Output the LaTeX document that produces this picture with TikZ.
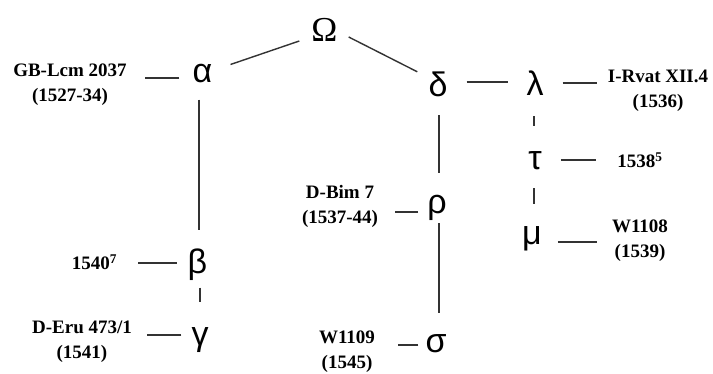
\documentclass[tikz,border=0pt]{standalone}
\usepackage{fontspec}
\setmainfont{Liberation Serif}
\newfontfamily\grk{Liberation Sans}
\usetikzlibrary{calc}
\tikzset{
  greek/.style={inner sep=0pt, font=\grk\fontsize{34}{34}\selectfont},
  omegastyle/.style={inner sep=0pt, font=\fontsize{35}{35}\selectfont},
  lbl/.style={inner sep=0pt, align=center, font=\bfseries\fontsize{19}{25}\selectfont},
  conn/.style={draw=black!80, line width=1.4pt}
}
\begin{document}
\begin{tikzpicture}[x=1pt,y=-1pt]
\useasboundingbox (0,0) rectangle (713,374);
\fill[white] (0,0) rectangle (713,374);
% Greek nodes
\node[omegastyle] (Omega) at (324.5,30) {Ω};
\node[greek] (alpha) at (202.5,74) {α};
\node[greek] (beta) at (197.5,264.5) {β};
\node[greek] (gamma) at (200,340) {γ};
\node[greek] (delta) at (438,84.5) {δ};
\node[greek] (rho) at (437,207.5) {ρ};
\node[greek] (sigma) at (436,344) {σ};
\node[greek] (lambda) at (535,83.5) {λ};
\node[greek] (tau) at (535,161) {τ};
\node[greek] (mu) at (532,239) {μ};
% labels
\node[lbl] (gb) at (70,85) {GB-Lcm 2037\\(1527-34)};
\node[lbl,anchor=base] (s1540) at (94.5,270) {1540\textsuperscript{7}};
\node[lbl] (deru) at (82,342) {D-Eru 473/1\\(1541)};
\node[lbl] (dbim) at (340,206) {D-Bim 7\\(1537-44)};
\node[lbl] (w1109) at (347,352) {W1109\\(1545)};
\node[lbl] (rvat) at (658,91) {I-Rvat XII.4\\(1536)};
\node[lbl,anchor=base] (s1538) at (640,168) {1538\textsuperscript{5}};
\node[lbl] (w1108) at (640,241) {W1108\\(1539)};
% tree connectors
\draw[conn] ($(Omega.west)+(-12,11)$) -- ($(alpha.north east)+(18,0)$);
\draw[conn] ($(Omega.east)+(11,7)$) -- ($(delta.north west)+(-11,0)$);
\draw[conn] ($(delta.east)+(19,-2.5)$) -- ($(delta.east -| lambda.west)+(-18,-2.5)$);
\draw[conn] ($(lambda.south)+(-1,20)$) -- ($(lambda.south |- tau.north)+(-1,-26)$);
\draw[conn] ($(tau.south)+(-1,18)$) -- ($(tau.south |- mu.north)+(-1,-23)$);
\draw[conn] ($(delta.south)+(1,18)$) -- ($(delta.south |- rho.north)+(1,-22)$);
\draw[conn] ($(rho.south)+(2,3)$) -- ($(rho.south |- sigma.north)+(2,-22)$);
\draw[conn] ($(alpha.south)+(-3.5,16)$) -- ($(alpha.south |- beta.north)+(-3.5,-18)$);
\draw[conn] ($(beta.south)+(2.5,7)$) -- ($(beta.south |- gamma.north)+(2.5,-25)$);
% label connectors
\draw[conn] ($(alpha.west)+(-13,4)$) -- ($(alpha.west -| gb.east)+(18,4)$);
\draw[conn] ($(beta.west)+(-11,-1.5)$) -- ($(beta.west -| s1540.east)+(21,-1.5)$);
\draw[conn] ($(gamma.west)+(-10,-5)$) -- ($(gamma.west -| deru.east)+(15,-5)$);
\draw[conn] ($(rho.west)+(-9,4.5)$) -- ($(rho.west -| dbim.east)+(17,4.5)$);
\draw[conn] ($(sigma.west)+(-7,1)$) -- ($(sigma.west -| w1109.east)+(23,1)$);
\draw[conn] ($(lambda.east)+(19,-0.5)$) -- ($(lambda.east -| rvat.west)+(-11,-0.5)$);
\draw[conn] ($(tau.east)+(19,-1)$) -- ($(tau.east -| s1538.west)+(-21,-1)$);
\draw[conn] ($(mu.east)+(16,3)$) -- ($(mu.east -| w1108.west)+(-15,3)$);
\end{tikzpicture}
\end{document}
